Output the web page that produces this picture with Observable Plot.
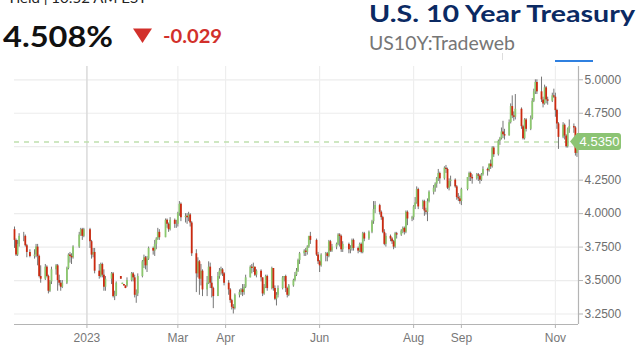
<!DOCTYPE html>
<html><head><meta charset="utf-8">
<script src="https://cdn.jsdelivr.net/npm/d3@7"></script>
<script src="https://cdn.jsdelivr.net/npm/@observablehq/plot@0.6"></script>
<style>
html,body{margin:0;padding:0;background:#fff;overflow:hidden;}
#wrap{position:relative;width:640px;height:351px;}
#wrap svg{display:block;}
#head{position:absolute;left:0;top:0;}
</style></head><body><div id="wrap"></div>
<script>
// [day, open, high, low, close]
const nov2022 = [[15,3.88,3.90,3.74,3.80],[16,3.80,3.81,3.68,3.69],[17,3.69,3.80,3.68,3.77],[18,3.77,3.85,3.75,3.83],[21,3.83,3.86,3.79,3.83],[22,3.83,3.84,3.75,3.76],[23,3.76,3.77,3.67,3.71],[25,3.71,3.73,3.67,3.68],[28,3.68,3.73,3.66,3.69],[29,3.69,3.77,3.67,3.75],[30,3.75,3.77,3.61,3.68]];
const dec2022 = [[1,3.68,3.69,3.52,3.53],[2,3.53,3.61,3.48,3.51],[5,3.51,3.62,3.50,3.60],[6,3.60,3.61,3.52,3.53],[7,3.53,3.54,3.40,3.42],[8,3.42,3.50,3.41,3.49],[9,3.49,3.60,3.47,3.58],[12,3.58,3.62,3.54,3.61],[13,3.61,3.62,3.42,3.50],[14,3.50,3.54,3.46,3.48],[15,3.48,3.50,3.42,3.45],[16,3.45,3.50,3.44,3.48],[19,3.48,3.60,3.47,3.59],[20,3.59,3.70,3.58,3.69],[21,3.69,3.71,3.63,3.68],[22,3.68,3.70,3.62,3.67],[23,3.67,3.76,3.66,3.75],[27,3.75,3.86,3.74,3.84],[28,3.84,3.89,3.83,3.88],[29,3.88,3.89,3.80,3.83],[30,3.83,3.89,3.82,3.88]];
const jan2023 = [[3,3.88,3.89,3.74,3.79],[4,3.79,3.80,3.66,3.69],[5,3.69,3.74,3.67,3.71],[6,3.71,3.74,3.55,3.57],[9,3.57,3.62,3.51,3.53],[10,3.53,3.63,3.52,3.62],[11,3.62,3.63,3.52,3.54],[12,3.54,3.58,3.42,3.45],[13,3.45,3.53,3.42,3.51],[17,3.51,3.56,3.47,3.55],[18,3.55,3.56,3.37,3.38],[19,3.38,3.42,3.35,3.39],[20,3.39,3.49,3.38,3.48],[23,3.53,3.53,3.51,3.51],[24,3.47,3.48,3.47,3.48],[25,3.47,3.47,3.46,3.46],[26,3.46,3.46,3.44,3.44],[27,3.46,3.52,3.45,3.50],[30,3.50,3.56,3.49,3.55],[31,3.55,3.56,3.49,3.52]];
const feb2023 = [[1,3.52,3.54,3.37,3.39],[2,3.39,3.43,3.33,3.40],[3,3.40,3.55,3.38,3.53],[6,3.53,3.65,3.52,3.64],[7,3.64,3.69,3.59,3.67],[8,3.67,3.68,3.58,3.61],[9,3.61,3.68,3.56,3.66],[10,3.66,3.75,3.65,3.74],[13,3.74,3.75,3.69,3.72],[14,3.72,3.80,3.68,3.77],[15,3.77,3.82,3.73,3.81],[16,3.81,3.89,3.80,3.86],[17,3.86,3.88,3.80,3.82],[21,3.82,3.96,3.82,3.95],[22,3.95,3.96,3.89,3.92],[23,3.92,3.93,3.86,3.88],[24,3.88,3.97,3.87,3.95],[27,3.95,3.96,3.89,3.92],[28,3.92,3.95,3.89,3.92]];
const mar2023 = [[1,3.92,4.01,3.90,4.00],[2,4.00,4.09,3.98,4.07],[3,4.07,4.08,3.94,3.97],[6,3.97,4.00,3.93,3.98],[7,3.98,4.00,3.92,3.97],[8,3.97,4.01,3.94,3.99],[9,3.99,4.00,3.90,3.93],[10,3.93,3.94,3.68,3.70],[13,3.70,3.73,3.41,3.55],[14,3.55,3.67,3.52,3.64],[15,3.64,3.65,3.39,3.51],[16,3.51,3.62,3.46,3.57],[17,3.57,3.58,3.38,3.43],[20,3.43,3.53,3.38,3.48],[21,3.48,3.64,3.47,3.60],[22,3.60,3.63,3.44,3.48],[23,3.48,3.53,3.37,3.44],[24,3.44,3.45,3.29,3.38],[27,3.38,3.56,3.38,3.53],[28,3.53,3.59,3.51,3.57],[29,3.57,3.60,3.54,3.58],[30,3.58,3.59,3.53,3.55],[31,3.55,3.56,3.46,3.48]];
const apr2023 = [[3,3.48,3.50,3.39,3.43],[4,3.43,3.44,3.33,3.35],[5,3.35,3.36,3.28,3.30],[6,3.30,3.32,3.25,3.29],[7,3.29,3.40,3.28,3.39],[10,3.39,3.43,3.37,3.41],[11,3.41,3.44,3.39,3.43],[12,3.43,3.47,3.38,3.41],[13,3.41,3.47,3.39,3.45],[14,3.45,3.54,3.44,3.52],[17,3.52,3.61,3.52,3.60],[18,3.60,3.62,3.55,3.59],[19,3.59,3.63,3.56,3.60],[20,3.60,3.60,3.53,3.54],[21,3.54,3.58,3.52,3.57],[24,3.57,3.58,3.49,3.52],[25,3.52,3.52,3.38,3.40],[26,3.40,3.47,3.39,3.45],[27,3.45,3.54,3.44,3.53],[28,3.53,3.54,3.42,3.44]];
const may2023 = [[1,3.44,3.60,3.43,3.59],[2,3.59,3.59,3.42,3.44],[3,3.44,3.46,3.35,3.36],[4,3.36,3.41,3.31,3.39],[5,3.39,3.46,3.37,3.44],[8,3.44,3.53,3.43,3.52],[9,3.52,3.53,3.49,3.53],[10,3.53,3.54,3.41,3.44],[11,3.44,3.45,3.37,3.39],[12,3.39,3.47,3.38,3.46],[15,3.46,3.51,3.45,3.50],[16,3.50,3.56,3.49,3.54],[17,3.54,3.59,3.53,3.57],[18,3.57,3.66,3.56,3.65],[19,3.65,3.71,3.62,3.70],[22,3.70,3.73,3.68,3.72],[23,3.72,3.74,3.68,3.71],[24,3.71,3.76,3.69,3.75],[25,3.75,3.83,3.74,3.83],[26,3.83,3.86,3.77,3.80],[30,3.80,3.81,3.68,3.69],[31,3.69,3.71,3.62,3.64]];
const jun2023 = [[1,3.64,3.65,3.56,3.61],[2,3.61,3.70,3.60,3.69],[5,3.69,3.71,3.64,3.70],[6,3.70,3.71,3.64,3.68],[7,3.68,3.80,3.67,3.79],[8,3.79,3.80,3.71,3.72],[9,3.72,3.77,3.71,3.75],[12,3.75,3.78,3.73,3.77],[13,3.77,3.85,3.76,3.84],[14,3.84,3.85,3.75,3.83],[15,3.83,3.84,3.71,3.73],[16,3.73,3.79,3.71,3.77],[20,3.77,3.78,3.70,3.73],[21,3.73,3.76,3.70,3.74],[22,3.74,3.81,3.72,3.80],[23,3.80,3.81,3.72,3.74],[26,3.74,3.75,3.70,3.72],[27,3.72,3.78,3.71,3.77],[28,3.77,3.78,3.70,3.71],[29,3.71,3.86,3.70,3.85],[30,3.85,3.86,3.79,3.81]];
const jul2023 = [[3,3.81,3.87,3.80,3.86],[5,3.86,3.95,3.85,3.94],[6,3.94,4.09,3.92,4.03],[7,4.03,4.09,4.00,4.06],[10,4.06,4.07,3.99,4.01],[11,4.01,4.02,3.95,3.97],[12,3.97,3.98,3.85,3.86],[13,3.86,3.88,3.76,3.77],[14,3.77,3.85,3.75,3.83],[17,3.83,3.84,3.79,3.81],[18,3.81,3.82,3.77,3.79],[19,3.79,3.80,3.73,3.75],[20,3.75,3.86,3.74,3.85],[21,3.85,3.86,3.81,3.84],[24,3.84,3.88,3.83,3.87],[25,3.87,3.90,3.85,3.89],[26,3.89,3.90,3.84,3.86],[27,3.86,4.02,3.85,4.01],[28,4.01,4.02,3.91,3.96],[31,3.96,3.98,3.94,3.97]];
const aug2023 = [[1,3.97,4.06,3.95,4.05],[2,4.05,4.12,4.03,4.08],[3,4.08,4.20,4.07,4.18],[4,4.18,4.19,4.03,4.05],[7,4.05,4.10,4.03,4.09],[8,4.09,4.10,3.98,4.02],[9,4.02,4.04,3.99,4.01],[10,4.01,4.11,3.94,4.09],[11,4.09,4.17,4.08,4.16],[14,4.16,4.21,4.14,4.19],[15,4.19,4.23,4.16,4.22],[16,4.22,4.27,4.19,4.26],[17,4.26,4.33,4.24,4.30],[18,4.30,4.31,4.22,4.26],[21,4.26,4.35,4.25,4.34],[22,4.34,4.36,4.30,4.33],[23,4.33,4.34,4.18,4.19],[24,4.19,4.26,4.17,4.24],[25,4.24,4.28,4.20,4.25],[28,4.25,4.26,4.19,4.20],[29,4.20,4.21,4.10,4.12],[30,4.12,4.15,4.09,4.11],[31,4.11,4.13,4.07,4.09]];
const sep2023 = [[1,4.09,4.19,4.06,4.18],[5,4.18,4.27,4.17,4.27],[6,4.27,4.31,4.24,4.30],[7,4.30,4.31,4.24,4.27],[8,4.27,4.29,4.22,4.26],[11,4.26,4.30,4.25,4.29],[12,4.29,4.30,4.24,4.28],[13,4.28,4.29,4.22,4.25],[14,4.25,4.30,4.24,4.29],[15,4.29,4.35,4.28,4.33],[18,4.33,4.34,4.28,4.32],[19,4.32,4.37,4.31,4.37],[20,4.37,4.40,4.33,4.35],[21,4.35,4.50,4.34,4.49],[22,4.49,4.50,4.42,4.44],[25,4.44,4.55,4.43,4.54],[26,4.54,4.57,4.51,4.56],[27,4.56,4.64,4.55,4.61],[28,4.61,4.69,4.56,4.59],[29,4.59,4.63,4.55,4.58]];
const oct2023 = [[2,4.58,4.70,4.58,4.68],[3,4.68,4.82,4.67,4.80],[4,4.80,4.88,4.71,4.73],[5,4.73,4.76,4.69,4.72],[6,4.72,4.89,4.70,4.78],[10,4.78,4.79,4.63,4.65],[11,4.65,4.66,4.55,4.56],[12,4.56,4.71,4.55,4.70],[13,4.70,4.71,4.61,4.63],[16,4.63,4.73,4.62,4.71],[17,4.71,4.86,4.70,4.84],[18,4.84,4.93,4.83,4.91],[19,4.91,5.00,4.89,4.98],[20,4.98,5.00,4.89,4.91],[23,4.91,5.02,4.83,4.85],[24,4.85,4.87,4.79,4.82],[25,4.82,4.96,4.81,4.94],[26,4.94,4.95,4.82,4.85],[27,4.85,4.87,4.81,4.84],[30,4.84,4.90,4.83,4.88],[31,4.88,4.93,4.86,4.87]];
const nov2023 = [[1,4.87,4.90,4.72,4.77],[2,4.77,4.78,4.63,4.67],[3,4.67,4.68,4.48,4.57],[6,4.57,4.68,4.56,4.66],[7,4.66,4.67,4.55,4.58],[8,4.58,4.59,4.49,4.50],[9,4.50,4.64,4.49,4.63],[10,4.63,4.70,4.60,4.65],[13,4.65,4.67,4.60,4.64],[14,4.64,4.65,4.43,4.45],[15,4.45,4.56,4.42,4.54],[16,4.54,4.55,4.45,4.51]];
const monthKeys = ["2022-11","2022-12","2023-01","2023-02","2023-03","2023-04","2023-05","2023-06","2023-07","2023-08","2023-09","2023-10","2023-11"];
const monthRows = [nov2022,dec2022,jan2023,feb2023,mar2023,apr2023,may2023,jun2023,jul2023,aug2023,sep2023,oct2023,nov2023];

const xTickDates = ["2023-01-01","2023-03-01","2023-04-01","2023-06-01","2023-08-01","2023-09-01","2023-11-01"];
const xTickLabels = ["2023","Mar","Apr","Jun","Aug","Sep","Nov"];
const yGridValues = [3.25,3.5,3.75,4.0,4.25,4.5,4.75,5.0];
const yTickValues = [3.25,3.5,3.75,4.0,4.25,4.75,5.0];
const refPrice = 4.535;
const lastYield = "4.508%";
const change = "-0.029";

const data = [];
monthKeys.forEach((k, i) => {
  for (const [d,o,h,l,c] of monthRows[i]) {
    data.push({date: new Date(`${k}-${String(d).padStart(2,"0")}T00:00:00Z`), open:o, high:h, low:l, close:c});
  }
});
const up = data.filter(d => d.close >= d.open);
const down = data.filter(d => d.close < d.open);
const tickDates = xTickDates.map(s => new Date(s + "T00:00:00Z"));
const labelMap = new Map(tickDates.map((d,i) => [+d, xTickLabels[i]]));
const xDomain = [new Date("2022-11-15T00:00:00Z"), new Date("2023-11-16T00:00:00Z")];
const yDomain = [3.1715, 5.0994];

const GREEN = "#8cc86e", RED = "#cc2a10", WICK = "#767676";

const plot = Plot.plot({
  width: 640, height: 351,
  marginLeft: 14, marginRight: 62, marginTop: 66, marginBottom: 27,
  style: {fontFamily: "'Liberation Sans', Arial, sans-serif", fontSize: "12px", background: "#fff"},
  x: {type: "utc", domain: xDomain},
  y: {domain: yDomain},
  marks: [
    Plot.ruleY(yGridValues, {stroke: "#ececec", strokeWidth: 1.2}),
    Plot.ruleX(tickDates, {stroke: d => labelMap.get(+d) === "2023" ? "#dadada" : "#eeeeee", strokeWidth: d => labelMap.get(+d) === "2023" ? 1.5 : 1.2}),
    Plot.ruleY([refPrice], {stroke: "#bfe0ad", strokeWidth: 1.5, strokeDasharray: "5,5"}),
    Plot.ruleX(data, {x: "date", y1: "low", y2: "high", stroke: WICK, strokeWidth: 1}),
    Plot.ruleX(up, {x: "date", y1: "open", y2: "close", stroke: GREEN, strokeWidth: 1.8}),
    Plot.ruleX(down, {x: "date", y1: "open", y2: "close", stroke: RED, strokeWidth: 1.8}),
    Plot.ruleY([yDomain[0]], {stroke: "#b4b4b4", strokeWidth: 1.2}),
    Plot.ruleX([xDomain[1]], {stroke: "#b4b4b4", strokeWidth: 1.2}),
    Plot.axisX(tickDates, {tickFormat: d => labelMap.get(+d), tickSize: 4, tickPadding: 5, fontSize: 12, color: "#777", stroke: "#b4b4b4", label: null}),
    Plot.axisY(yTickValues, {anchor: "right", tickFormat: d3.format(".4f"), tickSize: 4, tickPadding: 2, fontSize: 12, color: "#6e6e6e", stroke: "#b4b4b4", label: null})
  ]
});
const wrap = document.getElementById("wrap");
wrap.appendChild(plot);

// reference price tag, positioned with the plot's scales
const sy = plot.scale("y"), sx = plot.scale("x");
const yy = sy.apply(refPrice);
const xr = sx.apply(xDomain[1]);
const svg = d3.select(plot);
const tip = xr - 8, bx = xr - 1, bw = 44, bh = 17;
svg.append("path")
  .attr("d", `M${tip},${yy} L${bx},${yy-bh/2} L${bx+bw-3},${yy-bh/2} Q${bx+bw},${yy-bh/2} ${bx+bw},${yy-bh/2+3} L${bx+bw},${yy+bh/2-3} Q${bx+bw},${yy+bh/2} ${bx+bw-3},${yy+bh/2} L${bx},${yy+bh/2} Z`)
  .attr("fill", "#8cc474");
svg.append("text").attr("x", bx + bw/2 + 0.5).attr("y", yy + 4.5).attr("text-anchor", "middle")
  .attr("fill", "#fff").attr("font-size", 13).attr("font-family", "'Liberation Sans', Arial, sans-serif")
  .text(refPrice.toFixed(4));

// header
const head = d3.select(wrap).append("svg").attr("id", "head").attr("width", 640).attr("height", 66);
head.append("text").attr("x", 7).attr("y", 3).attr("font-size", 14).attr("fill", "#222")
  .attr("font-family", "Lato, 'Open Sans', sans-serif").attr("textLength", 140).attr("lengthAdjust", "spacingAndGlyphs")
  .text("Yield | 10:52 AM EST");
head.append("text").attr("x", 3).attr("y", 46.7).attr("font-size", 28).attr("font-weight", 700).attr("fill", "#111")
  .attr("font-family", "Lato, 'Open Sans', sans-serif").attr("textLength", 110).attr("lengthAdjust", "spacingAndGlyphs")
  .text(lastYield);
head.append("path").attr("d", "M133,28.5 L152,28.5 L142.5,43 Z").attr("fill", "#d2302b");
head.append("text").attr("x", 163).attr("y", 43.3).attr("font-size", 19.5).attr("font-weight", 700).attr("fill", "#d2302b")
  .attr("font-family", "Lato, 'Open Sans', sans-serif").attr("textLength", 59).attr("lengthAdjust", "spacingAndGlyphs")
  .text(change);
head.append("text").attr("x", 369).attr("y", 21.5).attr("font-size", 23).attr("font-weight", 700).attr("fill", "#0b2a63")
  .attr("font-family", "Lato, 'Open Sans', sans-serif").attr("textLength", 266).attr("lengthAdjust", "spacingAndGlyphs")
  .text("U.S. 10 Year Treasury");
head.append("text").attr("x", 369).attr("y", 49.5).attr("font-size", 18.5).attr("fill", "#767676")
  .attr("font-family", "Lato, 'Open Sans', sans-serif").attr("textLength", 146).attr("lengthAdjust", "spacingAndGlyphs")
  .text("US10Y:Tradeweb");
head.append("line").attr("x1", 502.5).attr("x2", 502.5).attr("y1", 53).attr("y2", 60).attr("stroke", "#ddd");
head.append("rect").attr("x", 555).attr("y", 60).attr("width", 38).attr("height", 2).attr("fill", "#2f80e0");
</script></body></html>
